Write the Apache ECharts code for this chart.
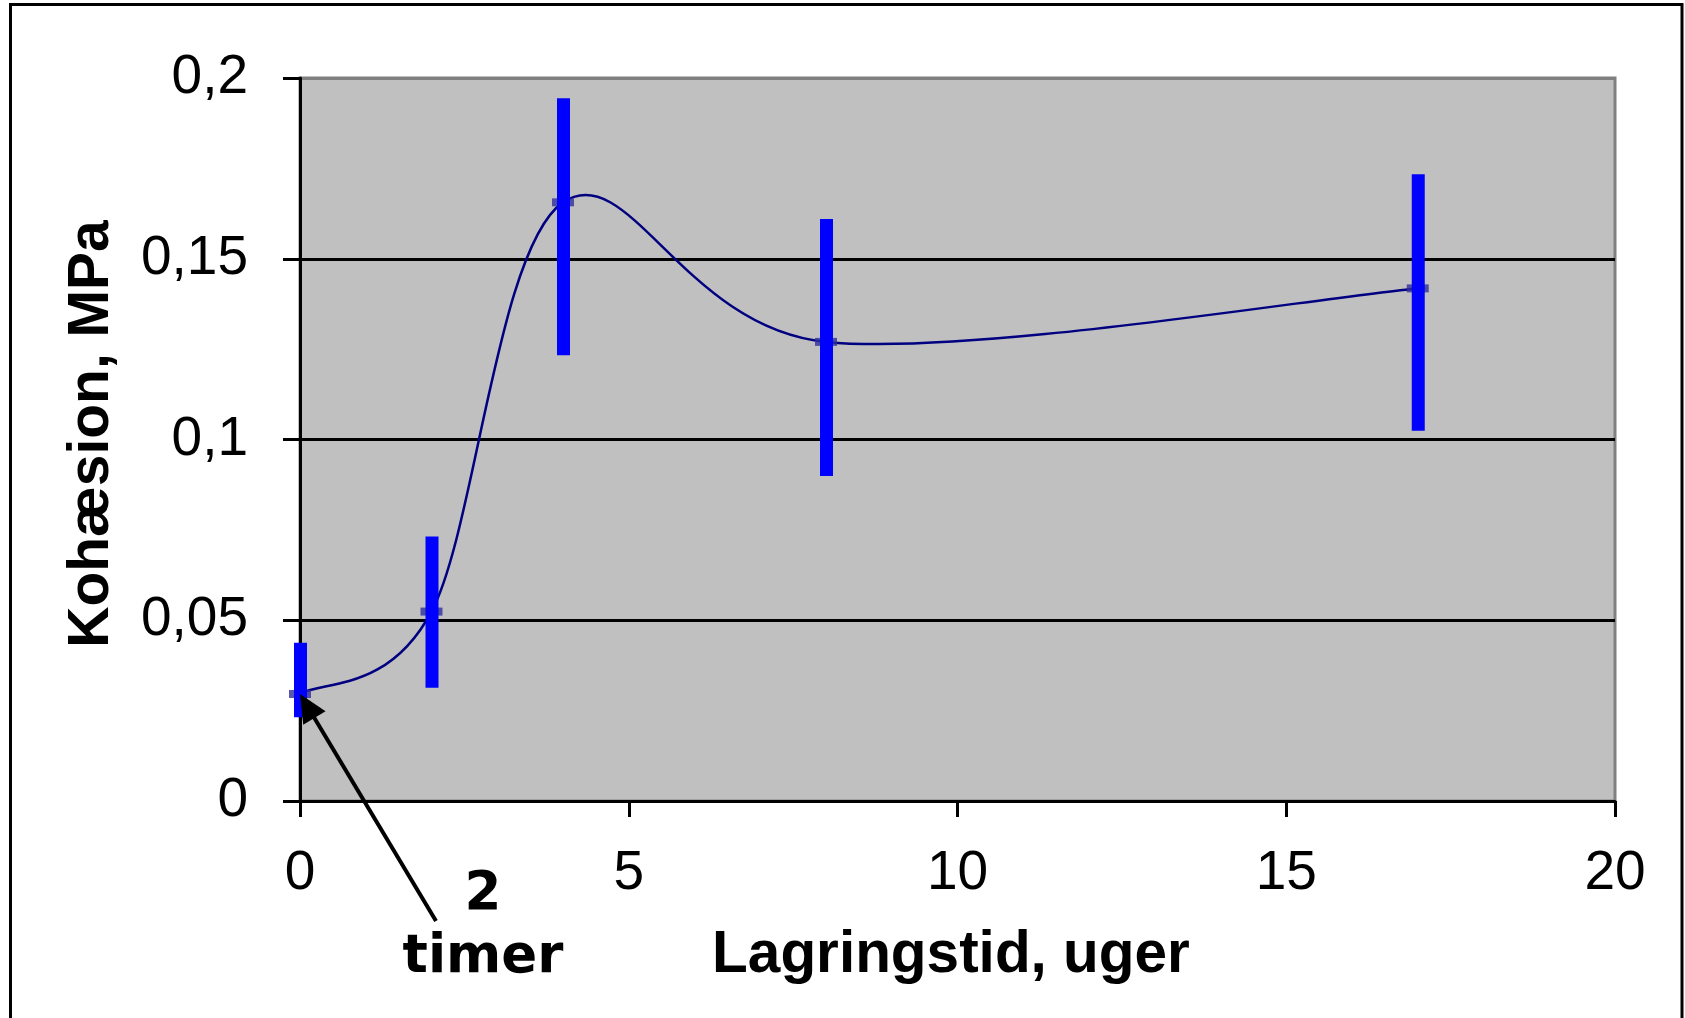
<!DOCTYPE html>
<html>
<head>
<meta charset="utf-8">
<script src="https://cdn.jsdelivr.net/npm/echarts@6/dist/echarts.min.js"></script>
<style>
html,body{margin:0;padding:0;background:#fff;}
#c{width:1685px;height:1018px;}
</style>
</head>
<body>
<div id="c"></div>
<script>
// Data
const weeks = [0, 2, 4, 8, 17];
const cohesion = [0.0296, 0.0524, 0.1656, 0.127, 0.1418];
const errLow = [0.0232, 0.0313, 0.1233, 0.0899, 0.1024];
const errHigh = [0.0438, 0.0732, 0.1944, 0.161, 0.1734];
const xTicks = [0, 5, 10, 15, 20];
const yTicks = [0, 0.05, 0.1, 0.15, 0.2];
const xTitle = 'Lagringstid, uger';
const yTitle = 'Kohæsion, MPa';
const annotation = '2\ntimer';

const lineData = weeks.map((w, i) => [w, cohesion[i]]);
const errData = weeks.map((w, i) => [w, errLow[i], errHigh[i]]);

const chart = echarts.init(document.getElementById('c'), null, {renderer: 'canvas'});

const FONT = '"Liberation Sans", Arial, sans-serif';

// Excel-style smoothed line (Catmull-Rom Bezier, 1/6 tension) through the data, via the axes' scales
function smoothCurve(params, api) {
  if (params.dataIndex !== 0) return {type: 'group', children: []};
  const pts = lineData.map(d => api.coord(d));
  const n = pts.length;
  let d = 'M' + pts[0][0] + ' ' + pts[0][1];
  for (let i = 0; i < n - 1; i++) {
    const p0 = pts[Math.max(i - 1, 0)], p1 = pts[i], p2 = pts[i + 1], p3 = pts[Math.min(i + 2, n - 1)];
    const c1 = [p1[0] + (p2[0] - p0[0]) / 6, p1[1] + (p2[1] - p0[1]) / 6];
    const c2 = [p2[0] - (p3[0] - p1[0]) / 6, p2[1] - (p3[1] - p1[1]) / 6];
    d += ' C' + c1[0] + ' ' + c1[1] + ' ' + c2[0] + ' ' + c2[1] + ' ' + p2[0] + ' ' + p2[1];
  }
  return {type: 'path', shape: {pathData: d}, style: {fill: null, stroke: '#000080', lineWidth: 2.5}};
}

chart.setOption({
  animation: false,
  backgroundColor: '#ffffff',
  grid: {
    left: 300, top: 78, width: 1315, height: 723,
    show: true, backgroundColor: '#C0C0C0', borderColor: '#808080', borderWidth: 3
  },
  xAxis: {
    type: 'value', min: xTicks[0], max: xTicks[xTicks.length - 1], interval: 5,
    axisLine: {show: true, onZero: false, lineStyle: {color: '#000', width: 3}},
    axisTick: {show: true, inside: false, length: 16, lineStyle: {color: '#000', width: 3}},
    axisLabel: {color: '#000', fontSize: 55, fontFamily: FONT, margin: 45},
    splitLine: {show: false}
  },
  yAxis: {
    type: 'value', min: yTicks[0], max: yTicks[yTicks.length - 1], interval: 0.05,
    axisLine: {show: true, onZero: false, lineStyle: {color: '#000', width: 3}},
    axisTick: {show: true, inside: false, length: 17, lineStyle: {color: '#000', width: 3}},
    axisLabel: {color: '#000', fontSize: 55, fontFamily: FONT, margin: 52,
      formatter: v => String(+v.toFixed(2)).replace('.', ',')},
    splitLine: {show: true, lineStyle: {color: ['#000', '#000', '#000', '#000', '#808080'], width: 3}}
  },
  series: [
    {
      type: 'custom', data: lineData, z: 2, renderItem: smoothCurve, silent: true
    },
    {
      type: 'scatter', data: lineData, z: 3,
      symbol: 'rect', symbolSize: [22, 8],
      itemStyle: {color: '#2e2e9c'}
    },
    {
      type: 'custom', data: errData, z: 4,
      renderItem: (params, api) => {
        const x = api.value(0);
        const top = api.coord([x, api.value(2)]);
        const bot = api.coord([x, api.value(1)]);
        const w = 13;
        return {type: 'rect', shape: {x: top[0] - w / 2 + 0.5, y: top[1], width: w, height: bot[1] - top[1]},
          style: {fill: '#0000FF'}};
      }
    }
  ]
});

// Annotation arrow anchored to the first data point
const tip = chart.convertToPixel({gridIndex: 0}, [weeks[0], cohesion[0]]);
const tail = [tip[0] + 136, tip[1] + 227];
const dx = tail[0] - tip[0], dy = tail[1] - tip[1];
const len = Math.sqrt(dx * dx + dy * dy);
const ux = dx / len, uy = dy / len;
const px = -uy, py = ux;
const headL = 28, headW = 13;
const base = [tip[0] + ux * headL, tip[1] + uy * headL];

chart.setOption({
  graphic: [
    {type: 'rect', shape: {x: 10.5, y: 4.5, width: 1671.5, height: 1100}, style: {fill: null, stroke: '#000', lineWidth: 3}, z: 100},
    {type: 'line', shape: {x1: base[0] - ux * 2, y1: base[1] - uy * 2, x2: tail[0], y2: tail[1]}, style: {stroke: '#000', lineWidth: 4}, z: 100},
    {type: 'polygon', shape: {points: [tip, [base[0] + px * headW, base[1] + py * headW], [base[0] - px * headW, base[1] - py * headW]]}, style: {fill: '#000'}, z: 100},
    {type: 'text', x: tail[0] + 47, y: tail[1] + 6, z: 100,
      style: {text: annotation, font: 'bold 53px "DejaVu Sans", sans-serif', fill: '#000', align: 'center', verticalAlign: 'middle', lineHeight: 63}},
    {type: 'text', x: 951, y: 956, z: 100,
      style: {text: xTitle, font: 'bold 58.5px ' + FONT, fill: '#000', align: 'center', verticalAlign: 'middle'}},
    {type: 'text', x: 92, y: 434, rotation: Math.PI / 2, z: 100,
      style: {text: yTitle, font: 'bold 57px ' + FONT, fill: '#000', align: 'center', verticalAlign: 'middle'}}
  ]
});
</script>
</body>
</html>
